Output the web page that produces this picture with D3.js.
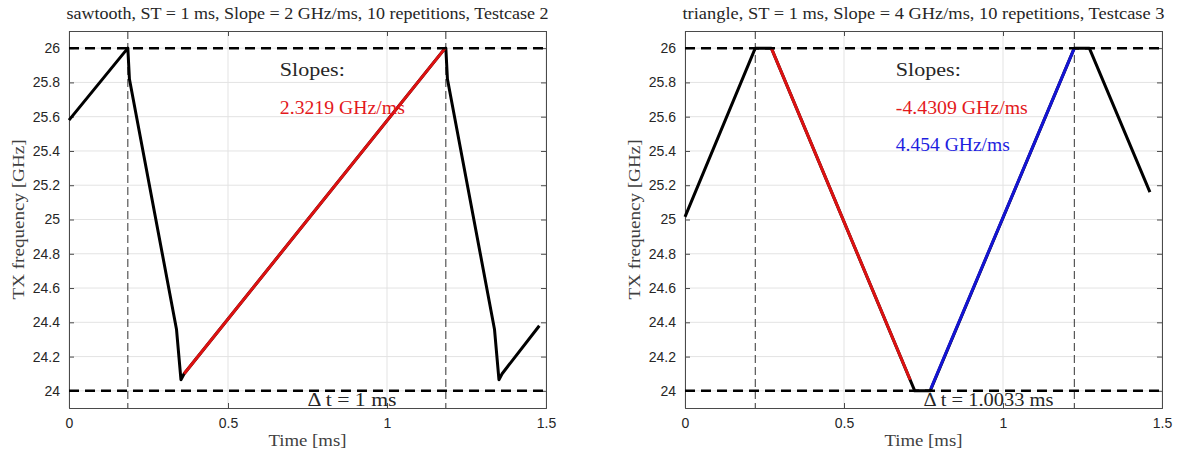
<!DOCTYPE html>
<html lang="en">
  <head>
    <meta charset="utf-8">
    <title>TX frequency</title>
    <style>
      body { margin: 0; background: #fff; }
      text { fill: #262626; }
    </style>
  </head>
  <body>

<script src="https://d3js.org/d3.v7.min.js"></script>

<script>

// ticks
var xTicks = [0, 0.5, 1, 1.5];
var xTickLabels = ["0", "0.5", "1", "1.5"];
var yTicks = [24, 24.2, 24.4, 24.6, 24.8, 25, 25.2, 25.4, 25.6, 25.8, 26];
var yTickLabels = ["24", "24.2", "24.4", "24.6", "24.8", "25", "25.2", "25.4", "25.6", "25.8", "26"];
var levels = [24, 26];

// sawtooth (testcase 2)
var sawTime = [0, 0.185, 0.19, 0.338, 0.352, 0.362, 1.183, 1.185, 1.19, 1.338, 1.352, 1.362, 1.479];
var sawFreq = [25.58, 26.0, 25.82, 24.36, 24.065, 24.10, 26.0, 26.0, 25.82, 24.36, 24.065, 24.10, 24.38];
var sawRedTime = [0.362, 1.183];
var sawRedFreq = [24.10, 26.0];
var sawMarkers = [0.185, 1.185];

// triangle (testcase 3)
var triTime = [0, 0.221, 0.2715, 0.7225, 0.771, 1.2243, 1.2715, 1.462];
var triFreq = [25.015, 26.0, 26.0, 24.0, 24.0, 26.0, 26.0, 25.16];
var triRedTime = [0.2715, 0.708];
var triRedFreq = [26.0, 24.065];
var triBlueTime = [0.773, 1.2243];
var triBlueFreq = [24.012, 26.0];
var triMarkers = [0.221, 1.2243];

var panels = [
  {
    left: 69, title: "sawtooth, ST = 1 ms, Slope = 2 GHz/ms, 10 repetitions, Testcase 2",
    time: sawTime, freq: sawFreq, markers: sawMarkers,
    overlays: [{time: sawRedTime, freq: sawRedFreq, color: "#dd1111"}],
    notes: [{text: "Slopes:", color: "#262626", f: 25.876, w: 65},
            {text: "2.3219 GHz/ms", color: "#e3191c", f: 25.655, w: 125}],
    delta: "\u0394 t = 1 ms", deltaW: 89
  },
  {
    left: 685, title: "triangle, ST = 1 ms, Slope = 4 GHz/ms, 10 repetitions, Testcase 3",
    time: triTime, freq: triFreq, markers: triMarkers,
    overlays: [{time: triRedTime, freq: triRedFreq, color: "#dd1111"},
               {time: triBlueTime, freq: triBlueFreq, color: "#1414d4"}],
    notes: [{text: "Slopes:", color: "#262626", f: 25.876, w: 65},
            {text: "-4.4309 GHz/ms", color: "#e3191c", f: 25.655, w: 132},
            {text: "4.454 GHz/ms", color: "#1e1ee0", f: 25.44, w: 114}],
    delta: "\u0394 t = 1.0033 ms", deltaW: 130
  }
];

var svg = d3.select("body").append("svg")
  .attr("width", 1180)
  .attr("height", 450);

var plotW = 477, plotTop = 31, plotBottom = 408;
var serif = "'Liberation Serif', 'DejaVu Serif', serif";
var sans = "'Liberation Sans', Arial, sans-serif";

panels.forEach(function(p) {
  var x = d3.scaleLinear().domain([0, 1.5]).range([p.left, p.left + plotW]);
  var y = d3.scaleLinear().domain([23.9, 26.1]).range([plotBottom, plotTop]);
  var g = svg.append("g");

  // grid
  g.selectAll(".gx").data(xTicks).enter().append("line")
    .attr("x1", d => x(d)).attr("x2", d => x(d))
    .attr("y1", plotTop).attr("y2", plotBottom)
    .attr("stroke", "#e3e3e3").attr("stroke-width", 1);
  g.selectAll(".gy").data(yTicks).enter().append("line")
    .attr("x1", x(0)).attr("x2", x(1.5))
    .attr("y1", d => y(d)).attr("y2", d => y(d))
    .attr("stroke", "#e3e3e3").attr("stroke-width", 1);

  // axes, ticks inside like matlab
  var ax = d3.axisBottom(x).tickValues(xTicks).tickSize(-5).tickPadding(10)
    .tickFormat((d, i) => xTickLabels[i]);
  var ay = d3.axisLeft(y).tickValues(yTicks).tickSize(-5).tickPadding(9)
    .tickFormat((d, i) => yTickLabels[i]);
  var axT = d3.axisTop(x).tickValues(xTicks).tickSize(-5).tickFormat("");
  var ayR = d3.axisRight(y).tickValues(yTicks).tickSize(-5).tickFormat("");

  g.append("g").attr("transform", "translate(0," + plotBottom + ")").call(ax);
  g.append("g").attr("transform", "translate(" + x(0) + ",0)").call(ay);
  g.append("g").attr("transform", "translate(0," + plotTop + ")").call(axT);
  g.append("g").attr("transform", "translate(" + x(1.5) + ",0)").call(ayR);
  g.selectAll(".domain").attr("stroke", "#4a4a4a").attr("stroke-width", 1);
  g.selectAll(".tick line").attr("stroke", "#4a4a4a");
  g.selectAll(".tick text").attr("font-family", sans).attr("font-size", 14).attr("fill", "#262626");

  // vertical markers
  g.selectAll(".vm").data(p.markers).enter().append("line")
    .attr("x1", d => x(d)).attr("x2", d => x(d))
    .attr("y1", plotTop).attr("y2", plotBottom)
    .attr("stroke", "#333").attr("stroke-width", 1)
    .attr("stroke-dasharray", "8,4");

  var line = d3.line().x(d => x(d[0])).y(d => y(d[1]));

  // signal
  g.append("path")
    .attr("d", line(d3.zip(p.time, p.freq)))
    .attr("fill", "none").attr("stroke", "#000").attr("stroke-width", 3)
    .attr("stroke-linejoin", "round");

  p.overlays.forEach(function(o) {
    g.append("path")
      .attr("d", line(d3.zip(o.time, o.freq)))
      .attr("fill", "none").attr("stroke", o.color).attr("stroke-width", 3);
  });

  // levels
  g.selectAll(".lv").data(levels).enter().append("line")
    .attr("x1", x(0)).attr("x2", x(1.5))
    .attr("y1", d => y(d)).attr("y2", d => y(d))
    .attr("stroke", "#000").attr("stroke-width", 2.5)
    .attr("stroke-dasharray", "10,6");

  // notes
  p.notes.forEach(function(n) {
    g.append("text")
      .attr("x", x(0.663)).attr("y", y(n.f))
      .attr("dy", "0.35em")
      .attr("font-family", serif).attr("font-size", 18.5)
      .attr("textLength", n.w).attr("lengthAdjust", "spacingAndGlyphs")
      .style("fill", n.color)
      .text(n.text);
  });
  g.append("text")
    .attr("x", x(0.75)).attr("y", y(23.95))
    .attr("dy", "0.35em")
    .attr("font-family", serif).attr("font-size", 18.5)
    .attr("textLength", p.deltaW).attr("lengthAdjust", "spacingAndGlyphs")
    .text(p.delta);

  // titles and labels
  g.append("text")
    .attr("x", x(0.75)).attr("y", 13)
    .attr("dy", "0.35em").attr("text-anchor", "middle")
    .attr("font-family", serif).attr("font-size", 16.5)
    .attr("textLength", 482).attr("lengthAdjust", "spacingAndGlyphs")
    .text(p.title);
  g.append("text")
    .attr("x", x(0.75)).attr("y", 440)
    .attr("dy", "0.35em").attr("text-anchor", "middle")
    .attr("font-family", serif).attr("font-size", 17)
    .attr("textLength", 78).attr("lengthAdjust", "spacingAndGlyphs")
    .style("fill", "#404040")
    .text("Time [ms]");
  g.append("text")
    .attr("transform", "translate(" + (p.left - 51) + "," + y(25) + ") rotate(-90)")
    .attr("dy", "0.35em").attr("text-anchor", "middle")
    .attr("font-family", serif).attr("font-size", 17)
    .attr("textLength", 160).attr("lengthAdjust", "spacingAndGlyphs")
    .style("fill", "#404040")
    .text("TX frequency [GHz]");
});

</script>

  </body>
</html>
